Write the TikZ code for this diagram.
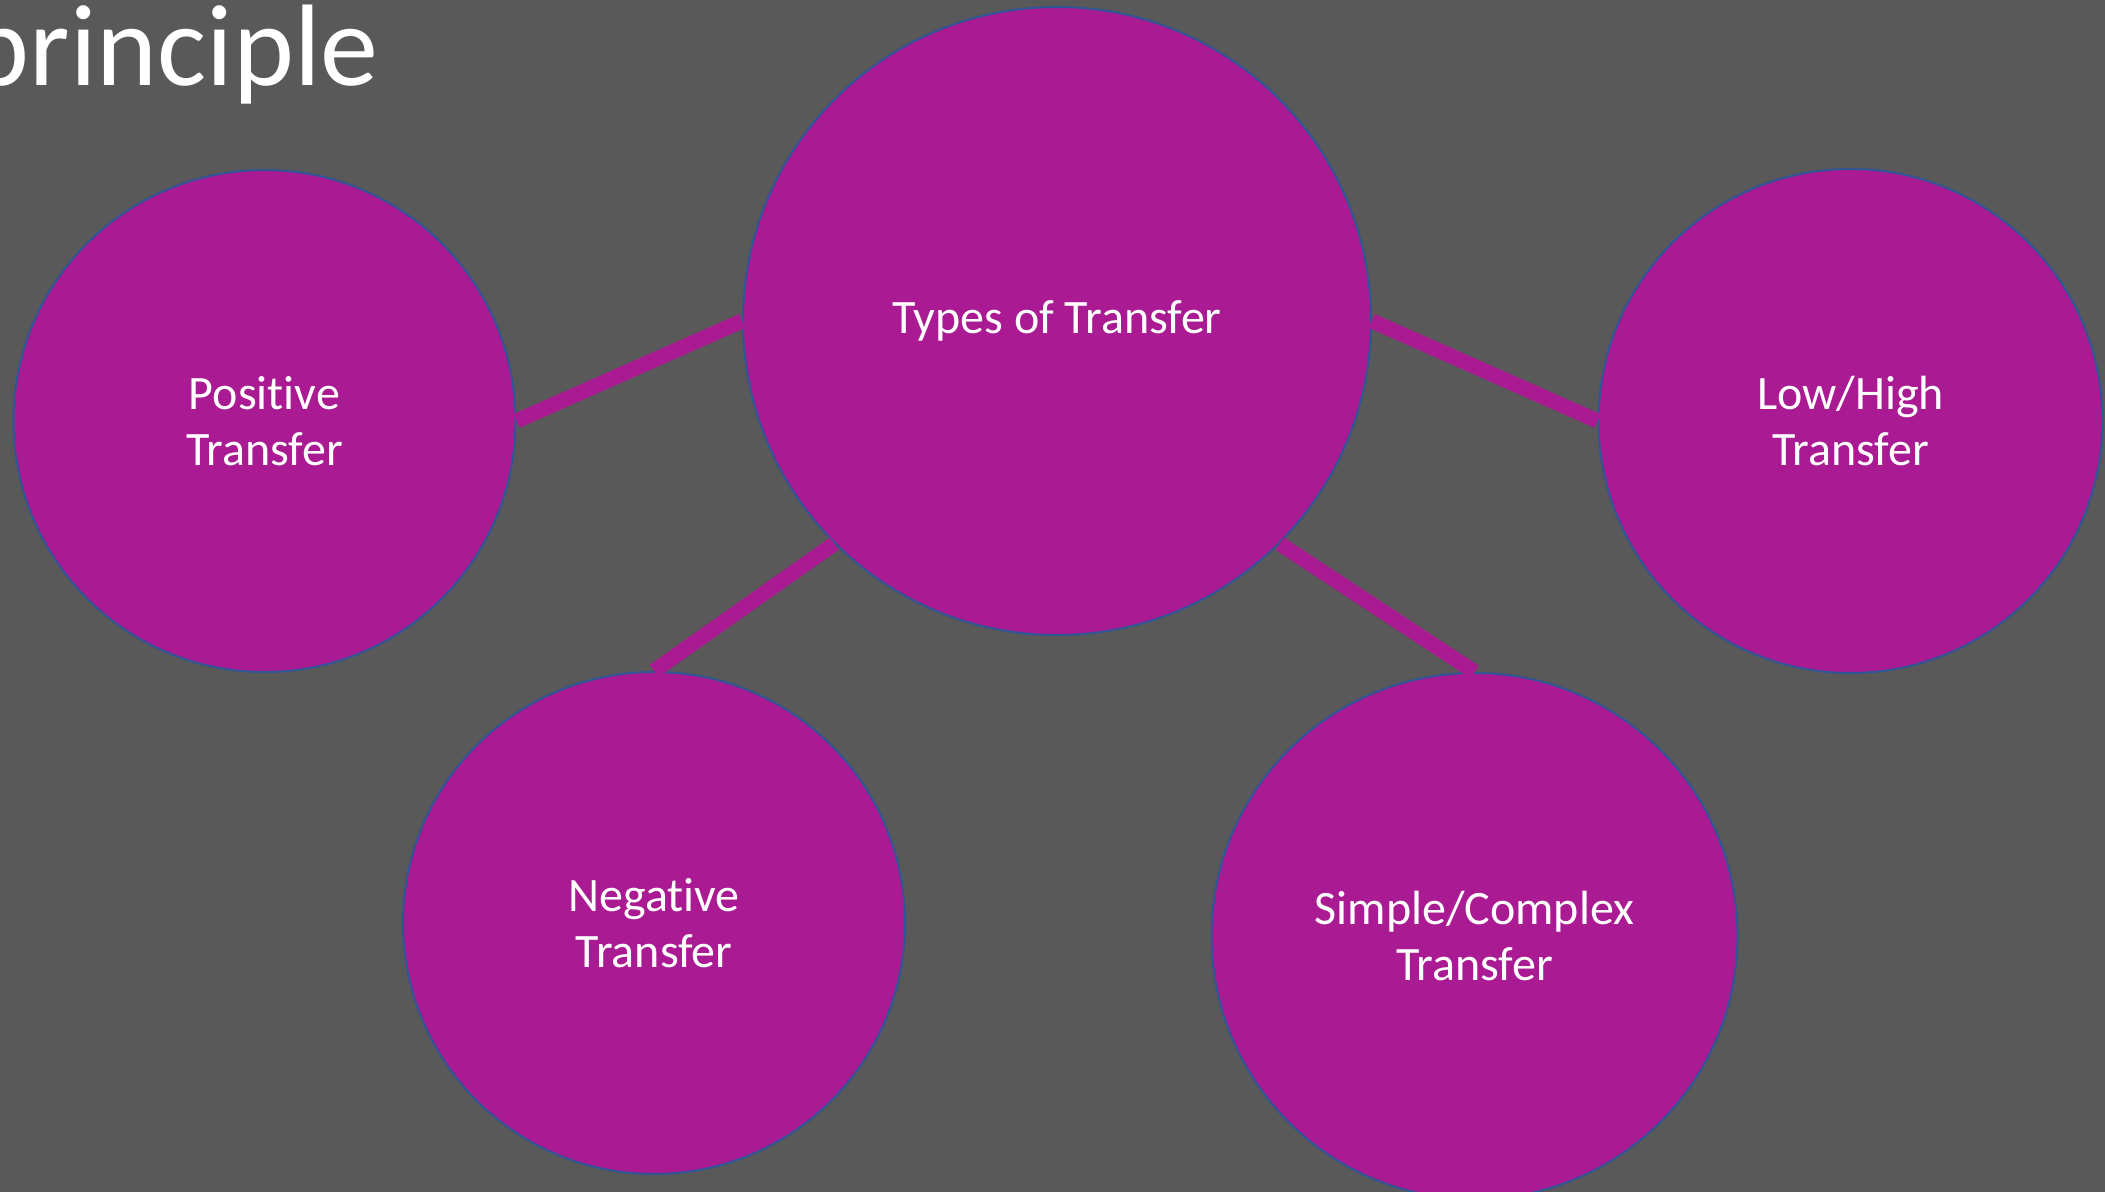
\documentclass[tikz,border=0pt]{standalone}
\usepackage{fontspec}
\setmainfont[Ligatures=NoCommon]{Carlito}
\definecolor{bg}{HTML}{595959}
\definecolor{bub}{HTML}{AA1A92}
\definecolor{rim}{HTML}{2F5597}
\begin{document}
\begin{tikzpicture}[x=0.5pt,y=-0.5pt,
  bubble/.style={circle,fill=bub,draw=rim,line width=1pt,inner sep=0pt,
    text=white,align=center,font=\fontsize{24}{28}\selectfont},
  link/.style={draw=bub,line width=7.5pt}]
\fill[bg] (0,0) rectangle (2105,1192);
\useasboundingbox (0,0) rectangle (2105,1192);
\begin{scope}
\clip (0,0) rectangle (2105,1192);
\node[anchor=base east,text=white,font=\fontsize{58}{64}\selectfont,inner sep=0pt] (title) at (379,86) {principle};
\node[bubble,minimum size=314pt] (c) at (1057,321) {\raisebox{-2pt}{Types of Transfer}};
\node[bubble,minimum size=251pt] (pos) at (264.5,421) {Positive\\Transfer};
\node[bubble,minimum size=252pt] (low) at (1850.5,421) {Low/High\\Transfer};
\node[bubble,minimum size=251pt] (neg) at (654,923) {Negative\\Transfer};
\node[bubble,minimum size=263pt] (sim) at (1474.5,936) {Simple/Complex\\Transfer};
\draw[link] (pos.east) -- (c.west);
\draw[link] (c.east) -- (low.west);
\draw[link] (c.south west) -- (neg.north);
\draw[link] (c.south east) -- (sim.north);
\end{scope}
\end{tikzpicture}
\end{document}
